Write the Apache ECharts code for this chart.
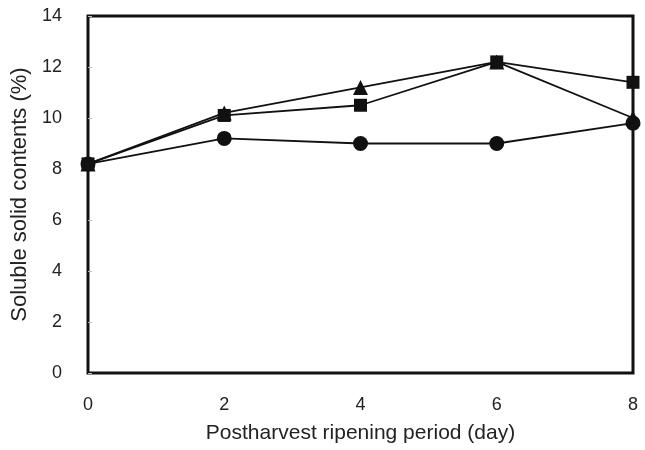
<!DOCTYPE html>
<html>
<head>
<meta charset="utf-8">
<script src="https://cdn.jsdelivr.net/npm/echarts@6/dist/echarts.min.js"></script>
<style>
  html, body { margin: 0; padding: 0; background: #fff; }
  #chart { width: 645px; height: 450px; }
</style>
</head>
<body>
<div id="chart"></div>
<script>
// 采后成熟期 可溶性固形物
var days = [0, 2, 4, 6, 8];
var squareVals = [8.2, 10.1, 10.5, 12.2, 11.4];
var triangleVals = [8.2, 10.2, 11.2, 12.2, 10.0];
var circleVals = [8.2, 9.2, 9.0, 9.0, 9.8];

function pairs(vals){
	var out = [];
	for (var i = 0; i < days.length; i++) {
		out.push([days[i], vals[i]]);
	}
	return out;
}

var myChart = echarts.init(document.getElementById('chart'));
var font = 'Liberation Sans, Arial, sans-serif';

var option = {
	backgroundColor: '#fff',
	animation: false,
	grid: {
		left: 88, right: 12, top: 16, bottom: 77,
		outerBoundsMode: 'none',
		containLabel: false,
		show: true,
		borderColor: '#111',
		borderWidth: 3,
		backgroundColor: 'transparent'
	},
	xAxis: {
		type: 'value',
		min: 0, max: 8, interval: 2,
		name: 'Postharvest ripening period (day)',
		nameLocation: 'middle',
		nameGap: 50,
		nameTextStyle: { fontFamily: font, fontSize: 21, color: '#222' },
		axisLine: { show: false },
		axisTick: { show: false },
		splitLine: { show: false },
		axisLabel: { fontFamily: font, fontSize: 18, color: '#222', margin: 23 }
	},
	yAxis: {
		type: 'value',
		min: 0, max: 14, interval: 2,
		name: 'Soluble solid contents (%)',
		nameLocation: 'middle',
		nameGap: 55,
		nameTextStyle: { fontFamily: font, fontSize: 22, color: '#222' },
		axisLine: { show: false },
		axisTick: { show: true, inside: true, length: 4, lineStyle: { color: '#bbb', width: 1 } },
		splitLine: { show: false },
		axisLabel: { fontFamily: font, fontSize: 18, color: '#222', margin: 26 }
	},
	series: [
		{
			type: 'line',
			data: pairs(squareVals),
			symbol: 'rect',
			symbolSize: 13,
			lineStyle: { color: '#111', width: 1.8 },
			itemStyle: { color: '#111' },
			z: 3
		},
		{
			type: 'line',
			data: pairs(triangleVals),
			symbol: 'triangle',
			symbolSize: 15,
			lineStyle: { color: '#111', width: 1.8 },
			itemStyle: { color: '#111' },
			z: 3
		},
		{
			type: 'line',
			data: pairs(circleVals),
			symbol: 'circle',
			symbolSize: 15,
			lineStyle: { color: '#111', width: 1.8 },
			itemStyle: { color: '#111' },
			z: 4
		}
	]
};

myChart.setOption(option);
</script>
</body>
</html>
